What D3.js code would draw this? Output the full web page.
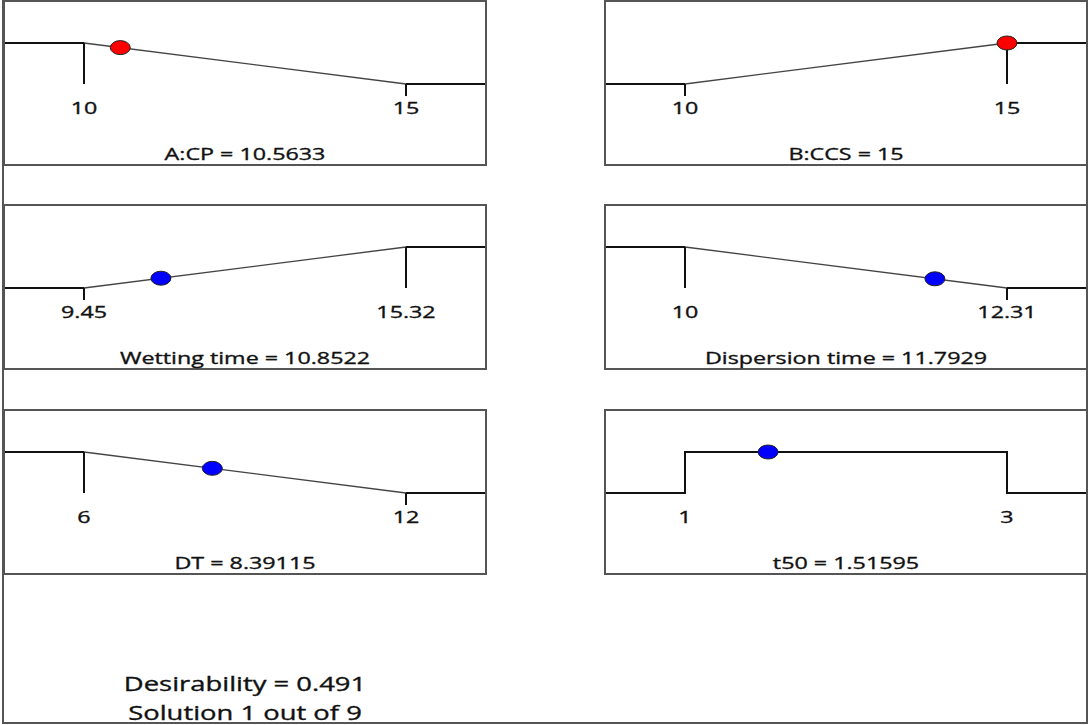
<!DOCTYPE html>
<html>
<head>
<meta charset="utf-8">
<script src="https://cdn.jsdelivr.net/npm/d3@7"></script>
<style>
  body { margin: 0; background: #fff; }
  svg { display: block; }
  text { font-family: "Open Sans", "Noto Sans", sans-serif; fill: #111; stroke: #111; stroke-width: 0.35px; }
</style>
</head>
<body>
<div id="chart"></div>
<script>
// Optimization ramps: one panel per factor / response
var names = ["A:CP", "B:CCS", "Wetting time", "Dispersion time", "DT", "t50"];
var lows = [10, 10, 9.45, 10, 6, 1];
var highs = [15, 15, 15.32, 12.31, 12, 3];
var lowLabels = ["10", "10", "9.45", "10", "6", "1"];
var highLabels = ["15", "15", "15.32", "12.31", "12", "3"];
var values = [10.5633, 15, 10.8522, 11.7929, 8.39115, 1.51595];
var valueLabels = ["10.5633", "15", "10.8522", "11.7929", "8.39115", "1.51595"];
var goals = ["minimize", "maximize", "maximize", "minimize", "minimize", "range"];
var kinds = ["factor", "factor", "response", "response", "response", "response"];

var desirability = "0.491";
var solution = 1, solutionCount = 9;

var width = 1090, height = 725;
var panelW = 482, panelH = 164;
var colX = [4, 605], rowY = [1, 205, 410];
var textStretch = 1.37; // reference glyphs are wide

var svg = d3.select("#chart").append("svg")
    .attr("width", width)
    .attr("height", height);

// outer frame (no top edge between the columns)
svg.append("path")
    .attr("d", "M3,0 V723 H1087 V0")
    .attr("fill", "none")
    .attr("stroke", "#555")
    .attr("stroke-width", 2);

// desirability level -> y inside a panel
var y = d3.scaleLinear().domain([0, 1]).range([83, 42]);

function desir(goal, lo, hi, v) {
  if (goal == "minimize") return v <= lo ? 1 : v >= hi ? 0 : (hi - v) / (hi - lo);
  if (goal == "maximize") return v >= hi ? 1 : v <= lo ? 0 : (v - lo) / (hi - lo);
  return (v >= lo && v <= hi) ? 1 : 0;
}

function stretchedText(g, x, yy, size, str) {
  g.append("g")
    .attr("transform", "translate(" + x + "," + yy + ") scale(" + textStretch + ",1)")
    .append("text")
    .attr("text-anchor", "middle")
    .style("font-size", size + "px")
    .text(str);
}

names.forEach(function(name, i) {
  var g = svg.append("g")
      .attr("transform", "translate(" + colX[i % 2] + "," + rowY[Math.floor(i / 2)] + ")");

  var x = d3.scaleLinear().domain([lows[i], highs[i]]).range([80, 402]);
  var goal = goals[i];
  var xl = x(lows[i]), xh = x(highs[i]);
  var thick = [], ticks = [];

  if (goal == "minimize") {
    thick.push([[0, y(1)], [xl, y(1)]], [[xh, y(0)], [panelW, y(0)]]);
    ticks.push([[xl, y(1)], [xl, y(0)]], [[xh, y(0)], [xh, y(0) + 12]]);
  } else if (goal == "maximize") {
    thick.push([[0, y(0)], [xl, y(0)]], [[xh, y(1)], [panelW, y(1)]]);
    ticks.push([[xl, y(0)], [xl, y(0) + 12]], [[xh, y(1)], [xh, y(0)]]);
  } else {
    thick.push([[0, y(0)], [xl, y(0)], [xl, y(1)], [xh, y(1)], [xh, y(0)], [panelW, y(0)]]);
  }

  var line = d3.line();

  // ramp between the limits
  if (goal != "range") {
    g.append("path")
      .attr("d", line([[xl, y(desir(goal, lows[i], highs[i], lows[i]))],
                       [xh, y(desir(goal, lows[i], highs[i], highs[i]))]]))
      .attr("fill", "none")
      .attr("stroke", "#444")
      .attr("stroke-width", 1.3);
  }

  thick.concat(ticks).forEach(function(pts) {
    g.append("path")
      .attr("d", line(pts))
      .attr("fill", "none")
      .attr("stroke", "#111")
      .attr("stroke-width", 2);
  });

  // panel border
  g.append("rect")
    .attr("x", 0).attr("y", 0)
    .attr("width", panelW).attr("height", panelH)
    .attr("fill", "none")
    .attr("stroke", "#555")
    .attr("stroke-width", 2);

  // current setting
  g.append("ellipse")
    .attr("cx", x(values[i]))
    .attr("cy", y(desir(goal, lows[i], highs[i], values[i])))
    .attr("rx", 10).attr("ry", 7)
    .attr("fill", kinds[i] == "factor" ? "#ff0000" : "#0000ff")
    .attr("stroke", "#222")
    .attr("stroke-width", 1);

  stretchedText(g, xl, 113, 17, lowLabels[i]);
  stretchedText(g, xh, 113, 17, highLabels[i]);
  stretchedText(g, panelW / 2, 159, 17, name + " = " + valueLabels[i]);
});

stretchedText(svg, 245, 691, 20, "Desirability = " + desirability);
stretchedText(svg, 245, 720, 20, "Solution " + solution + " out of " + solutionCount);
</script>
</body>
</html>
